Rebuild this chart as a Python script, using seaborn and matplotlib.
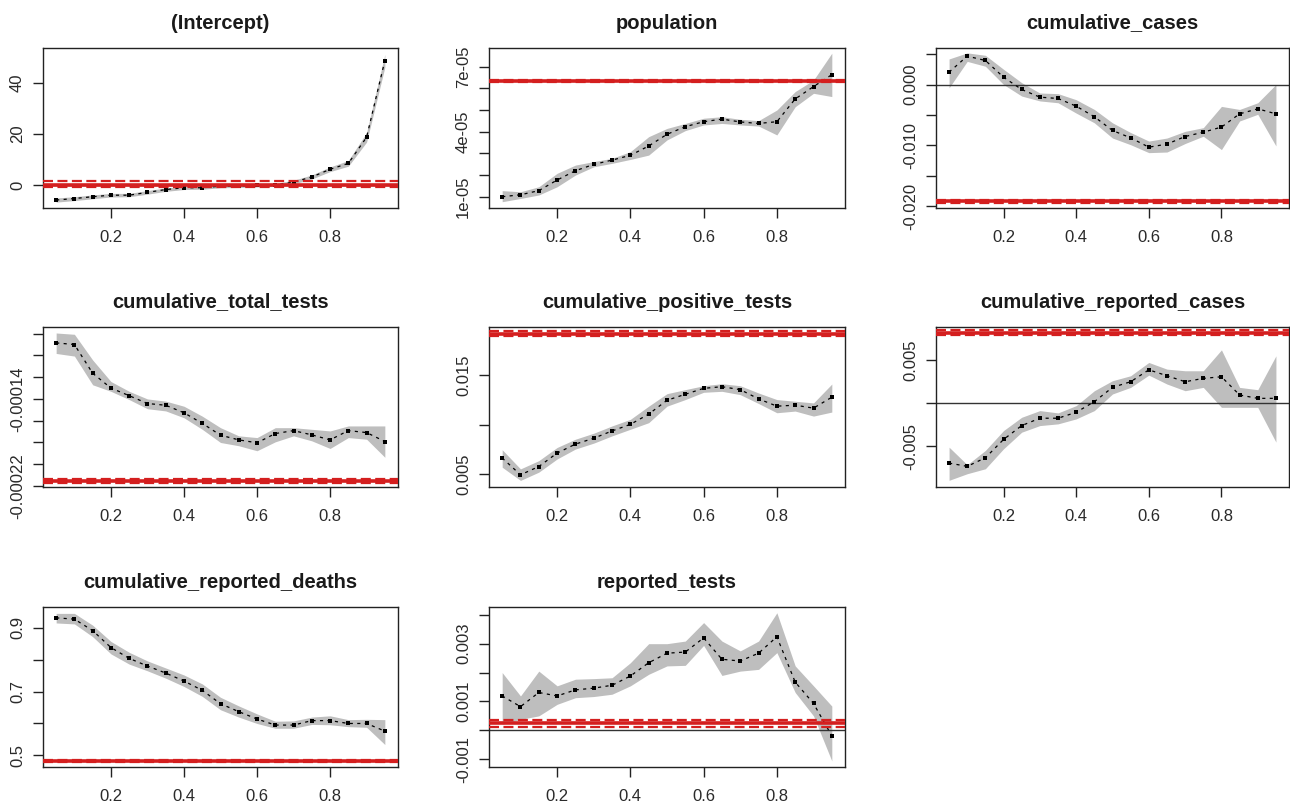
import numpy as np
import matplotlib
matplotlib.use("Agg")
import matplotlib.pyplot as plt
import seaborn as sns

sns.set_theme(style="ticks")
plt.rcParams['font.family'] = ['Liberation Sans', 'DejaVu Sans']

taus = [0.05, 0.10, 0.15, 0.20, 0.25, 0.30, 0.35, 0.40, 0.45, 0.50,
        0.55, 0.60, 0.65, 0.70, 0.75, 0.80, 0.85, 0.90, 0.95]

# (Intercept)
icpt_est = [-5.8, -5.2, -4.5, -3.9, -3.9, -2.8, -1.7, -1.0, -1.0, -0.4,
            -0.3, -0.1, 0.1, 1.2, 3.2, 6.2, 8.5, 18.7, 48.6]
icpt_lo = [-6.6, -6.0, -5.3, -4.6, -4.5, -3.5, -2.4, -1.7, -1.6, -1.0,
           -0.9, -0.7, -0.5, 0.5, 2.4, 5.3, 7.4, 16.8, 46.0]
icpt_hi = [-5.0, -4.5, -3.8, -3.2, -3.2, -2.1, -1.1, -0.4, -0.4, 0.2,
           0.3, 0.5, 0.7, 1.9, 4.0, 7.1, 9.6, 20.5, 51.0]
icpt_ols = [0.2, -0.8, 1.6]  # estimate, lower, upper

# population (x 1e-05)
pop_est = [1.00, 1.09, 1.28, 1.77, 2.20, 2.49, 2.69, 2.91, 3.34, 3.88,
           4.23, 4.46, 4.58, 4.45, 4.38, 4.46, 5.51, 6.08, 6.63]
pop_lo = [0.77, 0.92, 1.08, 1.46, 2.00, 2.38, 2.54, 2.72, 2.92, 3.62,
          4.05, 4.31, 4.38, 4.31, 4.26, 3.85, 5.15, 5.77, 5.62]
pop_hi = [1.28, 1.23, 1.46, 2.08, 2.46, 2.62, 2.77, 3.08, 3.77, 4.15,
          4.38, 4.62, 4.69, 4.57, 4.51, 5.00, 5.85, 6.38, 7.62]
pop_ols = [6.34, 6.30, 6.38]

# cumulative_cases
cc_est = [0.00203, 0.00466, 0.00395, 0.0012, -0.00082, -0.00208, -0.0023, -0.00356, -0.0053, -0.00756,
          -0.00877, -0.0103, -0.0098, -0.00855, -0.00784, -0.0070, -0.00482, -0.0040, -0.00482]
cc_lo = [-0.00055, 0.0038, 0.0030, 0.0, -0.0019, -0.0027, -0.0030, -0.0047, -0.0063, -0.0088,
         -0.0099, -0.0112, -0.0111, -0.0097, -0.0085, -0.0107, -0.0060, -0.0049, -0.0101]
cc_hi = [0.0042, 0.0052, 0.0048, 0.0025, 0.0003, -0.0014, -0.0015, -0.0025, -0.0041, -0.0063,
         -0.0079, -0.0093, -0.0088, -0.0077, -0.0071, -0.0036, -0.0041, -0.0030, 0.0]
cc_ols = [-0.0192, -0.0194, -0.0190]

# cumulative_total_tests (x 1e-05)
ctt_est = [-8.85, -9.0, -11.64, -13.0, -13.7, -14.42, -14.58, -15.27, -16.24, -17.33,
           -17.76, -18.03, -17.18, -16.91, -17.30, -17.76, -16.91, -17.09, -17.91]
ctt_lo = [-9.82, -10.06, -12.7, -13.3, -14.06, -14.9, -15.1, -15.73, -16.79, -18.0,
          -18.3, -18.76, -17.94, -17.39, -17.85, -18.55, -17.55, -17.7, -19.36]
ctt_hi = [-7.94, -8.06, -10.42, -12.4, -13.3, -14.0, -14.2, -14.67, -15.58, -16.64,
          -17.39, -17.55, -16.64, -16.64, -16.79, -16.94, -16.48, -16.48, -16.48]
ctt_ols = [-21.55, -21.73, -21.33]

# cumulative_positive_tests
cpt_est = [0.00661, 0.0049, 0.00574, 0.00711, 0.00802, 0.00862, 0.00936, 0.01003, 0.01107, 0.01248,
           0.01309, 0.01369, 0.01386, 0.01356, 0.01262, 0.01188, 0.01198, 0.01168, 0.01279]
cpt_lo = [0.00567, 0.00433, 0.00517, 0.00651, 0.00752, 0.00812, 0.00886, 0.00953, 0.0102, 0.01188,
          0.01255, 0.01329, 0.01339, 0.01305, 0.01215, 0.01121, 0.01138, 0.01087, 0.01128]
cpt_hi = [0.00745, 0.0055, 0.00634, 0.00768, 0.00852, 0.00913, 0.00987, 0.01054, 0.01188, 0.01315,
          0.01356, 0.01396, 0.01416, 0.01396, 0.01322, 0.01255, 0.01238, 0.01221, 0.01413]
cpt_ols = [0.01926, 0.0190, 0.0195]

# cumulative_reported_cases
crc_est = [-0.00698, -0.00736, -0.00636, -0.00422, -0.0026, -0.00174, -0.00174, -0.00105, 0.00019, 0.00186,
           0.00252, 0.00391, 0.00322, 0.00252, 0.00291, 0.0031, 0.00097, 0.00058, 0.00058]
crc_lo = [-0.00899, -0.00822, -0.00764, -0.00531, -0.00337, -0.0026, -0.0024, -0.00182, -0.00085, 0.00109,
          0.00186, 0.00329, 0.00225, 0.00147, 0.00186, -0.00047, -0.00047, -0.00047, -0.00453]
crc_hi = [-0.00512, -0.00717, -0.0055, -0.00318, -0.00163, -0.00085, -0.00112, -0.00027, 0.00147, 0.00264,
          0.00322, 0.00477, 0.00399, 0.0038, 0.0038, 0.00624, 0.00186, 0.00159, 0.00554]
crc_ols = [0.00826, 0.00795, 0.00853]

# cumulative_reported_deaths
crd_est = [0.931, 0.927, 0.891, 0.838, 0.804, 0.780, 0.758, 0.733, 0.704, 0.662,
           0.637, 0.614, 0.595, 0.595, 0.609, 0.609, 0.600, 0.600, 0.576]
crd_lo = [0.915, 0.912, 0.872, 0.818, 0.786, 0.765, 0.742, 0.716, 0.685, 0.643,
          0.620, 0.600, 0.585, 0.585, 0.597, 0.596, 0.590, 0.588, 0.534]
crd_hi = [0.945, 0.945, 0.908, 0.857, 0.823, 0.796, 0.774, 0.752, 0.724, 0.682,
          0.655, 0.630, 0.607, 0.608, 0.620, 0.624, 0.612, 0.613, 0.612]
crd_ols = [0.482, 0.478, 0.486]

# reported_tests
rt_est = [0.00119, 0.00082, 0.00131, 0.00119, 0.0014, 0.00146, 0.00156, 0.00188, 0.00234, 0.00267,
          0.00271, 0.0032, 0.00246, 0.0024, 0.00267, 0.00324, 0.00167, 0.00093, -0.00019]
rt_lo = [0.00021, 0.00038, 0.0005, 0.0009, 0.00113, 0.00117, 0.00125, 0.00154, 0.00194, 0.00223,
         0.00225, 0.00294, 0.0019, 0.00205, 0.00211, 0.00269, 0.00131, 0.0005, -0.00106]
rt_hi = [0.002, 0.00119, 0.00205, 0.00154, 0.00177, 0.00179, 0.00182, 0.00234, 0.003, 0.003,
         0.00309, 0.00373, 0.00309, 0.00275, 0.00309, 0.00407, 0.00223, 0.00154, 0.00084]
rt_ols = [0.00024, 0.00013, 0.00035]

titles = ['(Intercept)', 'population', 'cumulative_cases', 'cumulative_total_tests',
          'cumulative_positive_tests', 'cumulative_reported_cases',
          'cumulative_reported_deaths', 'reported_tests']

x_ticklabels = ['0.2', '0.4', '0.6', '0.8']

ytick_labels = [
    ['0', '20', '40'],
    ['1e-05', '', '', '4e-05', '', '', '7e-05'],
    ['-0.020', '', '-0.010', '', '0.000', ''],
    ['-0.00022', '', '', '', '-0.00014', '', '', ''],
    ['0.005', '', '0.015'],
    ['-0.005', '', '0.005'],
    ['0.5', '', '0.7', '', '0.9'],
    ['-0.001', '', '0.001', '', '0.003', ''],
]

e5 = 1e-5
panels = [
    (icpt_est, icpt_lo, icpt_hi, icpt_ols, 1, (-8.9, 53.5), [0, 20, 40]),
    (pop_est, pop_lo, pop_hi, pop_ols, e5, (0.48e-5, 7.86e-5), [1e-5, 2e-5, 3e-5, 4e-5, 5e-5, 6e-5, 7e-5]),
    (cc_est, cc_lo, cc_hi, cc_ols, 1, (-0.0203, 0.0060), [-0.02, -0.015, -0.01, -0.005, 0.0, 0.005]),
    (ctt_est, ctt_lo, ctt_hi, ctt_ols, e5, (-22.09e-5, -7.39e-5),
     [-22e-5, -20e-5, -18e-5, -16e-5, -14e-5, -12e-5, -10e-5, -8e-5]),
    (cpt_est, cpt_lo, cpt_hi, cpt_ols, 1, (0.00366, 0.01993), [0.005, 0.010, 0.015]),
    (crc_est, crc_lo, crc_hi, crc_ols, 1, (-0.00977, 0.00891), [-0.005, 0.0, 0.005]),
    (crd_est, crd_lo, crd_hi, crd_ols, 1, (0.4636, 0.965), [0.5, 0.6, 0.7, 0.8, 0.9]),
    (rt_est, rt_lo, rt_hi, rt_ols, 1, (-0.00127, 0.00427), [-0.001, 0.0, 0.001, 0.002, 0.003, 0.004]),
]

W, H = 1290, 808
fig = plt.figure(figsize=(W / 100, H / 100), dpi=100)
fig.patch.set_facecolor('white')

col_left = [43, 489, 936]
col_w = [355, 356, 353]
row_top = [48, 327, 607]
row_h = 160

red = '#d41f1f'
band = '#bebebe'

for i, (est, lo, hi, ols, sc, ylim, yt) in enumerate(panels):
    r, c = divmod(i, 3)
    ax = fig.add_axes([col_left[c] / W, 1 - (row_top[r] + row_h) / H, col_w[c] / W, row_h / H])
    est = np.array(est) * sc
    lo = np.array(lo) * sc
    hi = np.array(hi) * sc
    ols = np.array(ols) * sc

    ax.fill_between(taus, lo, hi, color=band, lw=0, zorder=1)
    ax.axhline(0, color='#333333', lw=1.0, zorder=2)
    sns.lineplot(x=taus, y=est, ax=ax, color='black', lw=0.9,
                 linestyle=(0, (2.5, 3.5)), zorder=3)
    sns.scatterplot(x=taus, y=est, ax=ax, color='black', marker='s', s=7,
                    linewidth=0, zorder=4)
    ax.axhline(ols[0], color=red, lw=2.6, zorder=5)
    ax.axhline(ols[1], color=red, lw=1.6, ls=(0, (4.5, 2)), zorder=5)
    ax.axhline(ols[2], color=red, lw=1.6, ls=(0, (4.5, 2)), zorder=5)

    ax.set_xlim(0.014, 0.986)
    ax.set_ylim(*ylim)
    ax.set_xticks([0.2, 0.4, 0.6, 0.8])
    ax.set_xticklabels(x_ticklabels)
    ax.set_yticks(yt)
    ax.set_yticklabels(ytick_labels[i])
    ax.set_xlabel('')
    ax.set_ylabel('')
    ax.set_title(titles[i], fontsize=14.5, fontweight='bold', pad=14, color='#1a1a1a')

    for s in ax.spines.values():
        s.set_visible(True)
        s.set_color('#222222')
        s.set_linewidth(1.0)
    ax.tick_params(axis='both', direction='out', length=7, width=1.0,
                   color='#222222', labelsize=12, labelcolor='#2a2a2a')
    ax.tick_params(axis='x', pad=9)
    ax.tick_params(axis='y', pad=6, labelrotation=90)
    for lbl in ax.get_yticklabels():
        lbl.set_va('center')
    ax.set_facecolor('white')
    ax.grid(False)

fig.savefig('out.png', dpi=100, facecolor='white')
